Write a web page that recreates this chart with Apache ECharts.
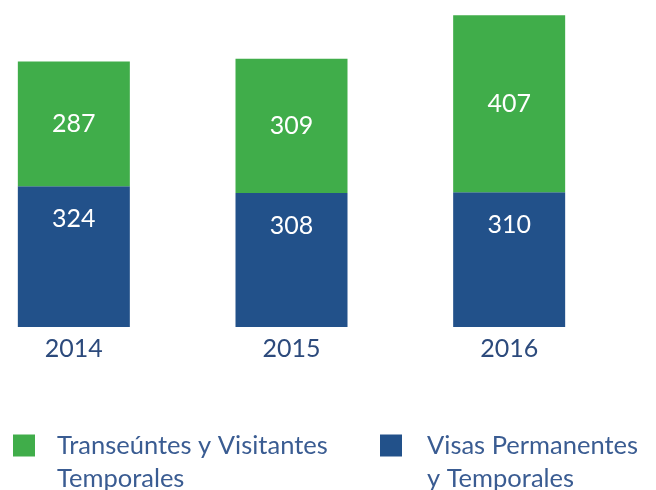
<!DOCTYPE html>
<html>
<head>
    <meta charset="utf-8">
    <title>Visas</title>
    <script src="https://cdn.jsdelivr.net/npm/echarts@6/dist/echarts.min.js"></script>
    <style>
        body { margin: 0; background: #fff; overflow: hidden; }
        /* 第一根柱子紧贴左边，图表整体左移 */
        #main { position: absolute; left: -35px; top: 0; }
    </style>
</head>
<body>
    <div id="main" style="width: 691px;height:490px;"></div>
    <script type="text/javascript">
        var years = ['2014', '2015', '2016']
        var permanentes = [324, 308, 310]
        var transeuntes = [287, 309, 407]
        var nameTrans = 'Transeúntes y Visitantes\nTemporales'
        var namePerm = 'Visas Permanentes\ny Temporales'

        var green = '#40ad4a'
        var blue = '#22518a'
        var textColor = '#3a5c92'
        var font = 'Lato'

        var myChart = echarts.init(document.getElementById('main'))

        // 图例文字：前面加一个空行，让色块对齐第一行
        var legendItem = function (name, left, padLeft) {
            return {
                data: [name],
                left: left,
                top: 391,
                icon: 'rect',
                itemWidth: 22,
                itemHeight: 22,
                formatter: function (n) {
                    return '\n' + n
                },
                textStyle: {
                    color: textColor,
                    fontFamily: font,
                    fontSize: 25.5,
                    lineHeight: 33,
                    padding: [0, 0, 0, padLeft]
                }
            }
        }

        var option = {
            animation: false,
            grid: {
                left: 0,
                width: 653,
                top: 14,
                height: 313
            },
            legend: [
                legendItem(nameTrans, 43, 17),
                legendItem(namePerm, 410, 20)
            ],
            xAxis: {
                type: 'category',
                data: years,
                axisLine: { show: false },
                axisTick: { show: false },
                axisLabel: {
                    color: '#2c4a7c',
                    fontFamily: font,
                    fontSize: 25,
                    margin: 9
                }
            },
            yAxis: {
                type: 'value',
                min: 0,
                max: 720,
                show: false
            },
            series: [{
                name: namePerm,
                type: 'bar',
                stack: 'total',
                barWidth: 112,
                itemStyle: { color: blue },
                label: {
                    show: true,
                    position: 'insideTop',
                    distance: 20,
                    color: '#fff',
                    fontFamily: font,
                    fontSize: 25
                },
                data: permanentes
            }, {
                name: nameTrans,
                type: 'bar',
                stack: 'total',
                barWidth: 112,
                itemStyle: { color: green },
                label: {
                    show: true,
                    position: 'inside',
                    color: '#fff',
                    fontFamily: font,
                    fontSize: 25
                },
                data: transeuntes
            }]
        }
        myChart.setOption(option)
    </script>
</body>
</html>
